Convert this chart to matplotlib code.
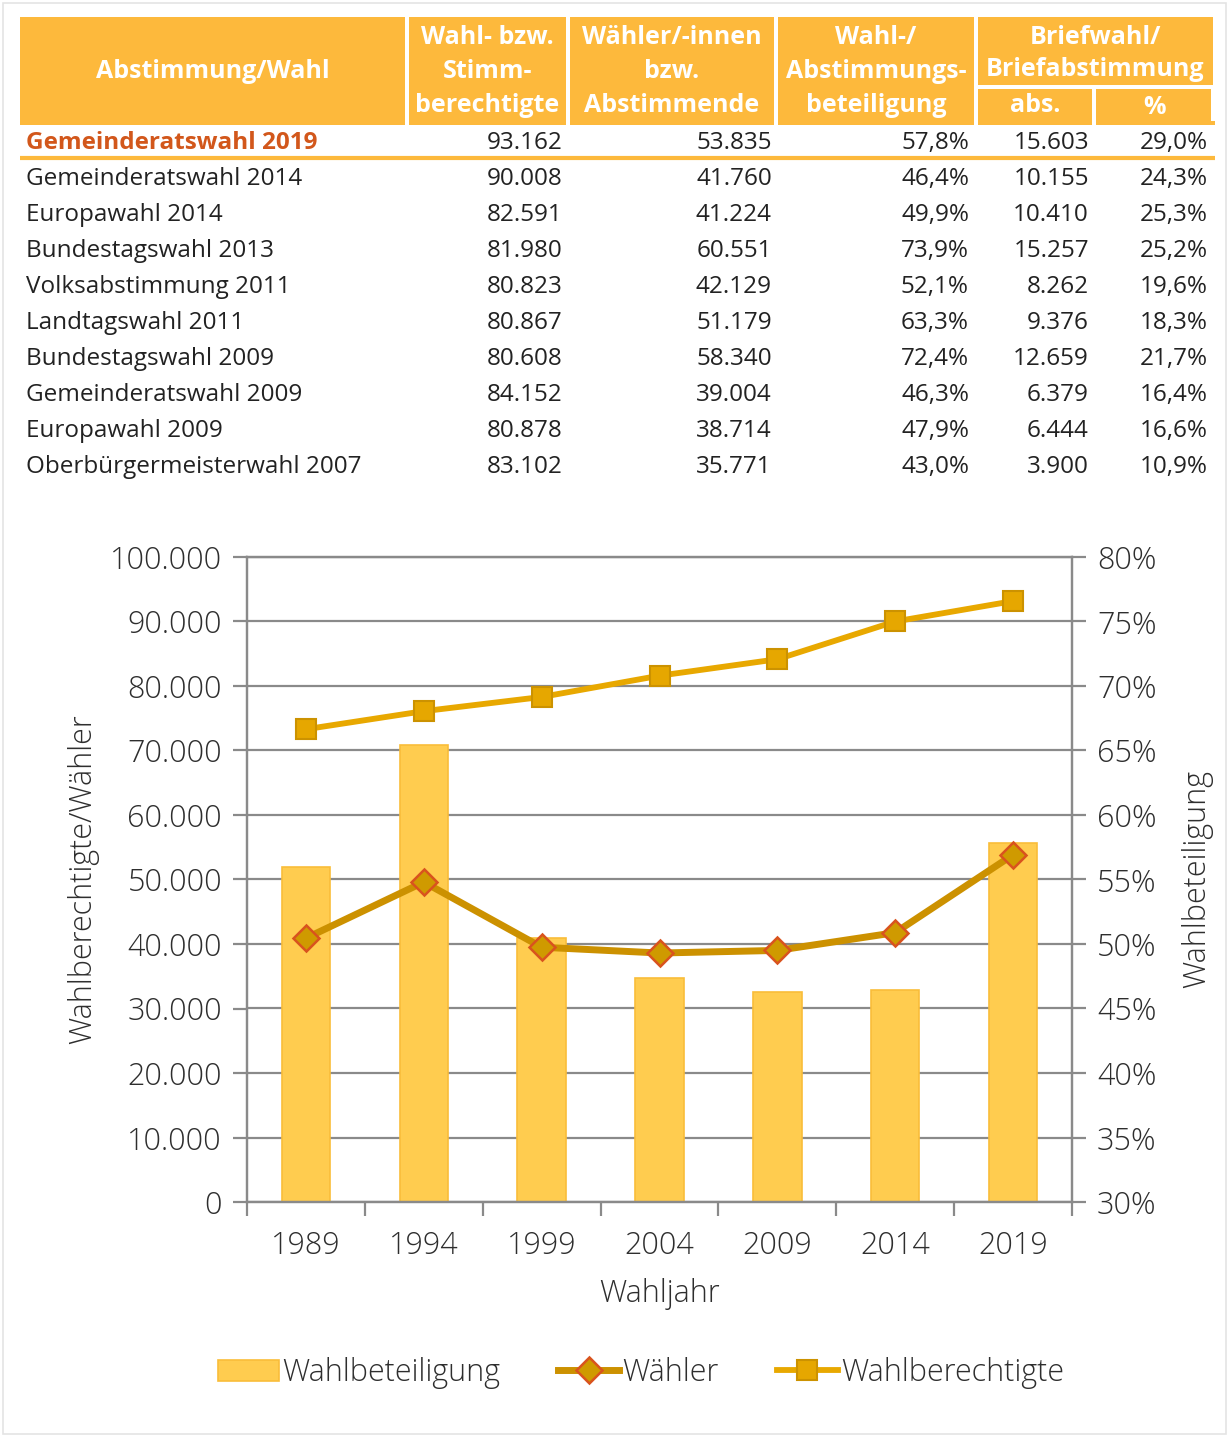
import matplotlib
matplotlib.use("Agg")
import matplotlib.pyplot as plt
from matplotlib.patches import Rectangle
from matplotlib.lines import Line2D

plt.rcParams['font.family'] = ['Open Sans', 'DejaVu Sans']

# Tabelle
wahlen = ["Gemeinderatswahl 2019", "Gemeinderatswahl 2014", "Europawahl 2014",
          "Bundestagswahl 2013", "Volksabstimmung 2011", "Landtagswahl 2011",
          "Bundestagswahl 2009", "Gemeinderatswahl 2009", "Europawahl 2009",
          "Oberbürgermeisterwahl 2007"]
berechtigte = [93162, 90008, 82591, 81980, 80823, 80867, 80608, 84152, 80878, 83102]
abstimmende = [53835, 41760, 41224, 60551, 42129, 51179, 58340, 39004, 38714, 35771]
beteiligung = [57.8, 46.4, 49.9, 73.9, 52.1, 63.3, 72.4, 46.3, 47.9, 43.0]
brief_abs = [15603, 10155, 10410, 15257, 8262, 9376, 12659, 6379, 6444, 3900]
brief_pct = [29.0, 24.3, 25.3, 25.2, 19.6, 18.3, 21.7, 16.4, 16.6, 10.9]

# Diagramm
jahre = ["1989", "1994", "1999", "2004", "2009", "2014", "2019"]
wahlbeteiligung = [56.0, 65.4, 50.5, 47.4, 46.3, 46.4, 57.8]
waehler = [40900, 49600, 39500, 38600, 39004, 41760, 53835]
wahlberechtigte = [73300, 76100, 78300, 81600, 84152, 90008, 93162]

ORANGE = '#FDB93C'
RED = '#D2571B'
TXT = '#222222'
HFS = 18     # Kopfzeile
BFS = 17.5   # Tabellenzeilen
CFS = 22     # Diagramm


def de_int(v):
    return f"{v:,}".replace(",", ".")


def de_pct(v):
    return f"{v:.1f}%".replace(".", ",")


fig = plt.figure(figsize=(12.29, 14.37), dpi=100)

# Hintergrund-Achse in Pixelkoordinaten fuer die Tabelle
bg = fig.add_axes([0, 0, 1, 1])
bg.set_xlim(0, 1229)
bg.set_ylim(1437, 0)
bg.axis('off')
bg.add_patch(Rectangle((3, 3), 1223, 1431, fill=False, ec='#E4E4E4', lw=1.2))

# Kopfzeile
cols = [(20, 405), (409, 566), (570, 774), (778, 974)]
heads = [["Abstimmung/Wahl"], ["Wahl- bzw.", "Stimm-", "berechtigte"],
         ["Wähler/-innen", "bzw.", "Abstimmende"],
         ["Wahl-/", "Abstimmungs-", "beteiligung"]]
for (x0, x1), lines in zip(cols, heads):
    bg.add_patch(Rectangle((x0, 17), x1 - x0, 108, color=ORANGE, lw=0))
    if len(lines) == 1:
        ys = [72]
    else:
        ys = [38, 72, 105]
    for y, t in zip(ys, lines):
        bg.text((x0 + x1) / 2, y, t, ha='center', va='center', color='white',
                fontsize=HFS, fontweight='bold')
bg.add_patch(Rectangle((978, 17), 235, 68, color=ORANGE, lw=0))
bg.text(1095, 37, "Briefwahl/", ha='center', va='center', color='white', fontsize=HFS, fontweight='bold')
bg.text(1095, 69, "Briefabstimmung", ha='center', va='center', color='white', fontsize=HFS, fontweight='bold')
bg.add_patch(Rectangle((978, 89), 114, 36, color=ORANGE, lw=0))
bg.add_patch(Rectangle((1096, 89), 115, 32, color=ORANGE, lw=0))
bg.add_patch(Rectangle((1096, 121), 119, 4, color=ORANGE, lw=0))
bg.text(1035, 106, "abs.", ha='center', va='center', color='white', fontsize=HFS, fontweight='bold')
bg.text(1155, 107, "%", ha='center', va='center', color='white', fontsize=HFS, fontweight='bold')

# Zeilen
for i, name in enumerate(wahlen):
    y = 143 + 36 * i
    if i == 0:
        kw = dict(color=RED, fontweight='bold')
    else:
        kw = dict(color=TXT)
    bg.text(26, y, name, ha='left', va='center', fontsize=BFS, **kw)
    kw = dict(color=TXT)
    bg.text(563, y, de_int(berechtigte[i]), ha='right', va='center', fontsize=BFS, **kw)
    bg.text(772, y, de_int(abstimmende[i]), ha='right', va='center', fontsize=BFS, **kw)
    bg.text(969, y, de_pct(beteiligung[i]), ha='right', va='center', fontsize=BFS, **kw)
    bg.text(1089, y, de_int(brief_abs[i]), ha='right', va='center', fontsize=BFS, **kw)
    bg.text(1208, y, de_pct(brief_pct[i]), ha='right', va='center', fontsize=BFS, **kw)
bg.plot([20, 1215], [158, 158], color=ORANGE, lw=3, solid_capstyle='butt')

# Diagramm
GRID = '#8A8A8A'
LBL = '#2E2E2E'
ax2 = fig.add_axes([247 / 1229, 1 - 1202 / 1437, 825 / 1229, 645 / 1437])
ax = ax2.twinx()
ax2.yaxis.tick_right()
ax2.yaxis.set_label_position('right')
ax.yaxis.tick_left()
ax.yaxis.set_label_position('left')

x = range(len(jahre))
ax2.bar(x, wahlbeteiligung, width=0.41, color='#FFCC4F', edgecolor='#F9BD3A', lw=1.2, zorder=2)
ax2.set_ylim(30, 80)
ax2.set_yticks(range(30, 81, 5))
ax2.set_yticklabels([f"{v}%" for v in range(30, 81, 5)])
ax2.grid(axis='y', color=GRID, lw=1.6, zorder=0)
ax2.set_axisbelow(True)

ax.plot(x, wahlberechtigte, color='#E8A800', lw=4.2, marker='s', ms=15,
        mfc='#E6A700', mec='#CC9200', mew=1.5, zorder=3)
ax.plot(x, waehler, color='#CC9100', lw=5, marker='D', ms=13,
        mfc='#CF9A00', mec='#D9531E', mew=1.8, zorder=4)
ax.set_ylim(0, 100000)
ax.set_yticks(range(0, 100001, 10000))
ax.set_yticklabels([de_int(v) for v in range(0, 100001, 10000)])
ax.set_xlim(-0.5, 6.5)
ax.set_zorder(ax2.get_zorder() + 1)
ax.patch.set_visible(False)

ax2.set_xticks(list(x))
ax2.set_xticklabels(jahre)
ax2.set_xticks([i - 0.5 for i in range(len(jahre) + 1)], minor=True)
ax2.tick_params(axis='x', which='major', length=0, pad=20)
ax2.tick_params(axis='x', which='minor', length=10, width=1.6, color=GRID)

for a in (ax, ax2):
    for s in a.spines.values():
        s.set_color(GRID)
        s.set_linewidth(1.6)
    a.tick_params(axis='y', length=10, width=1.6, color=GRID, pad=8)
    a.tick_params(labelsize=CFS, labelcolor=LBL)
    for lbl in a.get_yticklabels() + a.get_xticklabels():
        lbl.set_fontweight('light')

ax.set_ylabel("Wahlberechtigte/Wähler", fontsize=CFS, fontweight='light', color=LBL, labelpad=8)
ax2.set_ylabel("Wahlbeteiligung", fontsize=CFS, fontweight='light', color=LBL, labelpad=18)
ax2.set_xlabel("Wahljahr", fontsize=CFS, fontweight='light', color=LBL, labelpad=12)

handles = [
    Rectangle((0, 0), 1, 1, fc='#FFCC4F', ec='#F9BD3A', lw=1.2),
    Line2D([], [], color='#CC9100', lw=5, marker='D', ms=13, mfc='#CF9A00', mec='#D9531E', mew=1.8),
    Line2D([], [], color='#E8A800', lw=4.2, marker='s', ms=15, mfc='#E6A700', mec='#CC9200', mew=1.5),
]
leg = fig.legend(handles, ["Wahlbeteiligung", "Wähler", "Wahlberechtigte"],
                 loc='center', bbox_to_anchor=(641 / 1229, 1 - 1373 / 1437), ncol=3,
                 frameon=False, fontsize=CFS, handlelength=2.0, handletextpad=0.1,
                 columnspacing=1.9)
for t in leg.get_texts():
    t.set_fontweight('light')
    t.set_color(LBL)

fig.savefig("out.png", dpi=100)
